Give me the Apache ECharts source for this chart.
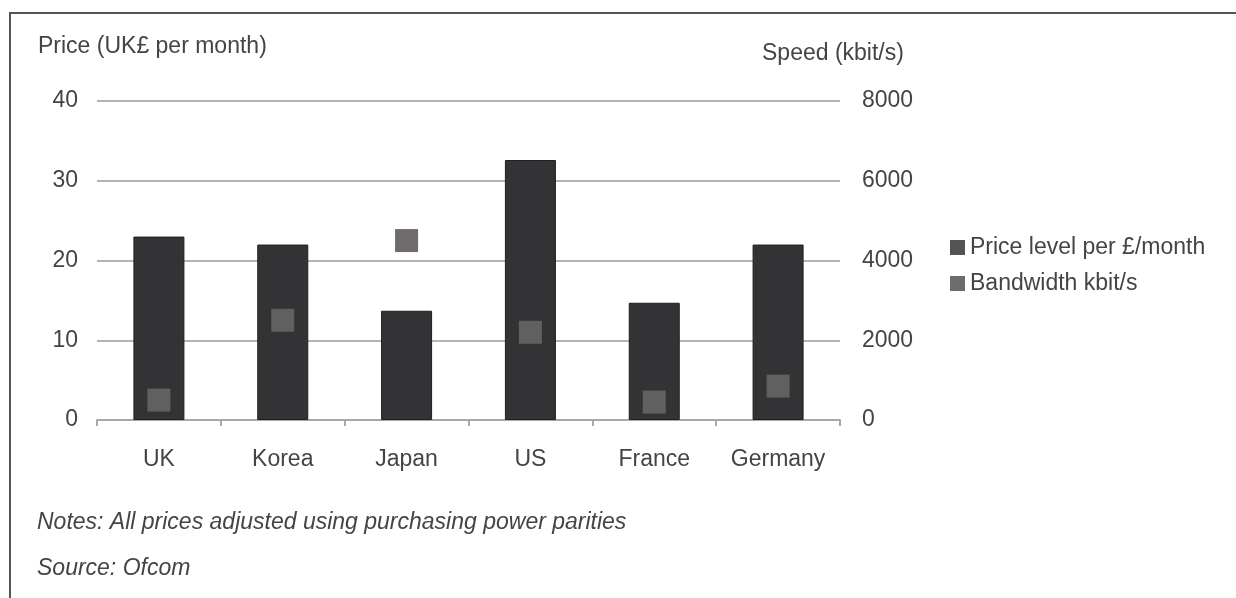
<!DOCTYPE html>
<html>
<head>
<meta charset="utf-8">
<script src="https://cdn.jsdelivr.net/npm/echarts@6/dist/echarts.min.js"></script>
<style>
html,body{margin:0;padding:0;background:#fff;}
#chart{width:1236px;height:598px;}
</style>
</head>
<body>
<div id="chart"></div>
<script>
const categories = ['UK', 'Korea', 'Japan', 'US', 'France', 'Germany'];
const priceLevel = [23.0, 22.0, 13.7, 32.6, 14.7, 22.0];
const bandwidth = [500, 2500, 4500, 2200, 450, 850];
const priceTicks = [0, 10, 20, 30, 40];
const speedTicks = [0, 2000, 4000, 6000, 8000];

const FONT = '"Liberation Sans", Arial, sans-serif';
const TXT = '#444444';
const FS = 23;

const chart = echarts.init(document.getElementById('chart'), null, {renderer: 'canvas'});
chart.setOption({
  animation: false,
  backgroundColor: '#fff',
  textStyle: {fontFamily: FONT},
  grid: {left: 97, right: 396, top: 101, bottom: 178, containLabel: false},
  legend: {
    orient: 'vertical',
    left: 945, top: 231,
    itemWidth: 15, itemHeight: 15, itemGap: 13,
    icon: 'rect',
    textStyle: {fontFamily: FONT, fontSize: FS, color: TXT},
    data: [
      {name: 'Price level per £/month', itemStyle: {color: '#555355', borderWidth: 0}},
      {name: 'Bandwidth kbit/s', itemStyle: {color: '#4a4648', borderWidth: 0}}
    ]
  },
  xAxis: {
    type: 'category',
    data: categories,
    axisLine: {show: true, lineStyle: {color: '#a8a8a8', width: 2}},
    axisTick: {show: true, length: 6, lineStyle: {color: '#a8a8a8', width: 2}},
    axisLabel: {fontFamily: FONT, fontSize: FS, color: TXT, margin: 28}
  },
  yAxis: [
    {
      type: 'value', min: priceTicks[0], max: priceTicks[priceTicks.length - 1], interval: 10,
      axisLine: {show: false}, axisTick: {show: false},
      axisLabel: {fontFamily: FONT, fontSize: FS, color: TXT, margin: 19},
      splitLine: {show: true, lineStyle: {color: '#b4b4b4', width: 2}}
    },
    {
      type: 'value', min: speedTicks[0], max: speedTicks[speedTicks.length - 1], interval: 2000,
      axisLine: {show: false}, axisTick: {show: false},
      axisLabel: {fontFamily: FONT, fontSize: FS, color: TXT, margin: 22, formatter: function (v) { return String(v); }},
      splitLine: {show: false}
    }
  ],
  series: [
    {
      name: 'Price level per £/month',
      type: 'bar',
      yAxisIndex: 0,
      data: priceLevel,
      barWidth: 51,
      itemStyle: {color: '#333234', borderColor: '#1f1f21', borderWidth: 1}
    },
    {
      name: 'Bandwidth kbit/s',
      type: 'scatter',
      yAxisIndex: 1,
      data: bandwidth,
      symbol: 'rect',
      symbolSize: 23,
      z: 5,
      itemStyle: {
        color: function (p) {
          const asPrice = bandwidth[p.dataIndex] / 200;
          return asPrice <= priceLevel[p.dataIndex] ? '#6c6b6c' : '#4a4548';
        }
      }
    }
  ],
  graphic: [
    {type: 'polyline', shape: {points: [[10, 598], [10, 13], [1236, 13]]},
     style: {stroke: '#555', lineWidth: 2, fill: null}},
    {type: 'text', left: 38, top: 35,
     style: {text: 'Price (UK£ per month)', font: FS + 'px ' + FONT, fill: TXT}},
    {type: 'text', left: 762, top: 42,
     style: {text: 'Speed (kbit/s)', font: FS + 'px ' + FONT, fill: TXT}},
    {type: 'text', left: 37, top: 511,
     style: {text: 'Notes: All prices adjusted using purchasing power parities', font: 'italic ' + FS + 'px ' + FONT, fill: TXT}},
    {type: 'text', left: 37, top: 557,
     style: {text: 'Source: Ofcom', font: 'italic ' + FS + 'px ' + FONT, fill: TXT}}
  ]
});
</script>
</body>
</html>
